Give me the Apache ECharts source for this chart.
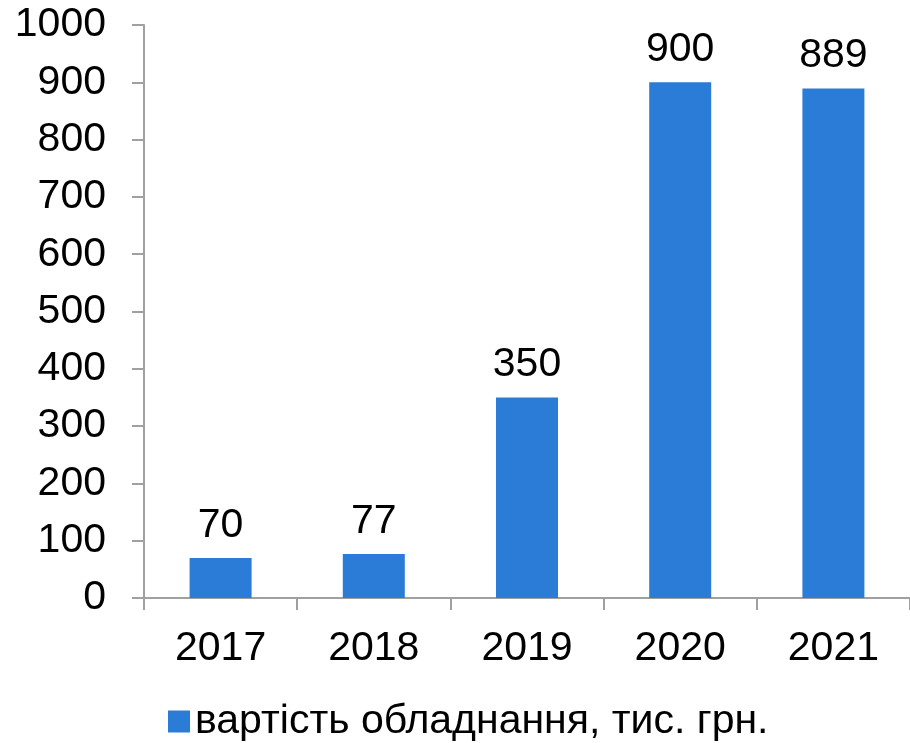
<!DOCTYPE html>
<html lang="uk">
<head>
    <meta charset="UTF-8">
    <title>Вартість обладнання</title>
    <script src="https://cdn.jsdelivr.net/npm/echarts/dist/echarts.min.js"></script>
    <style>
        html, body { margin: 0; padding: 0; background: #fff; }
    </style>
</head>
<body>
    <div id="main" style="width: 910px;height:743px;"></div>
    <script>
        // дані з рисунка
        var years = ['2017', '2018', '2019', '2020', '2021'];
        var costs = [70, 77, 350, 900, 889];
        var seriesName = 'вартість обладнання, тис. грн.';

        var font = '"Liberation Sans", Arial, sans-serif';
        var chart = echarts.init(document.getElementById('main'));
        var option = {
            animation: false,
            textStyle: { fontFamily: font },
            grid: {
                left: 144,
                top: 25,
                width: 772,
                height: 573
            },
            legend: {
                data: [seriesName],
                top: 696,
                left: 163,
                itemWidth: 22,
                itemHeight: 22,
                itemGap: 8,
                icon: 'rect',
                textStyle: { fontSize: 41, color: '#000', fontFamily: font }
            },
            xAxis: {
                type: 'category',
                data: years,
                axisLine: { lineStyle: { color: '#a0a0a0', width: 2 } },
                axisTick: { show: true, length: 12, lineStyle: { color: '#a0a0a0', width: 2 } },
                axisLabel: { fontSize: 41, color: '#000', margin: 30, fontFamily: font }
            },
            yAxis: {
                type: 'value',
                min: 0,
                max: 1000,
                interval: 100,
                splitLine: { show: false },
                axisLine: { show: true, lineStyle: { color: '#a0a0a0', width: 2 } },
                axisTick: { show: true, length: 12, lineStyle: { color: '#a0a0a0', width: 2 } },
                axisLabel: {
                    fontSize: 41,
                    color: '#000',
                    margin: 38,
                    fontFamily: font,
                    formatter: function (v) { return String(v); }
                }
            },
            series: [{
                name: seriesName,
                type: 'bar',
                data: costs,
                barWidth: 62,
                itemStyle: { color: '#2b7cd6' },
                label: {
                    show: true,
                    position: 'top',
                    distance: 12,
                    fontSize: 41,
                    color: '#000',
                    fontFamily: font
                }
            }]
        };
        chart.setOption(option);
    </script>
</body>
</html>
